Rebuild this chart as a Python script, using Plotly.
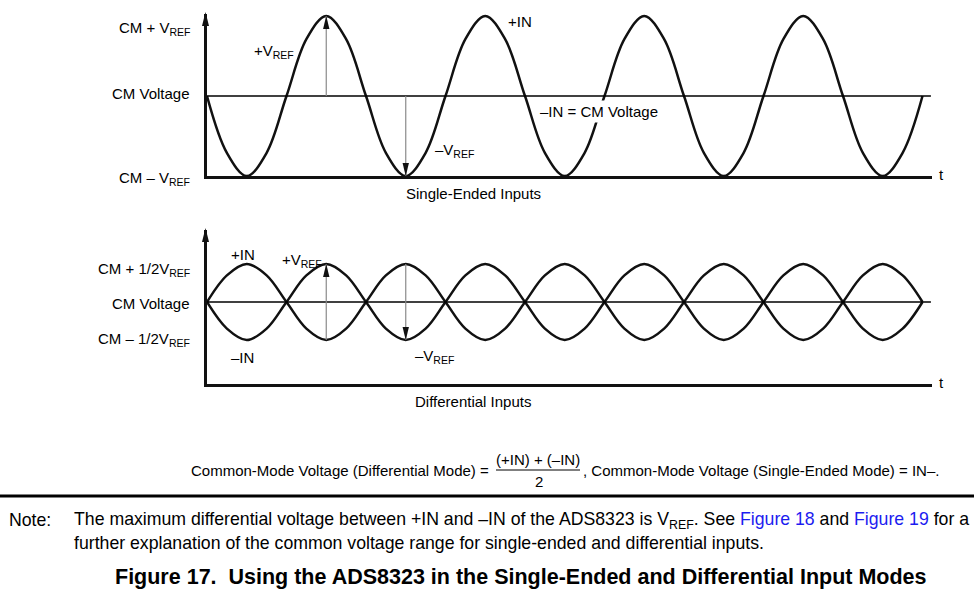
import plotly.graph_objects as go

W, H = 974, 597

# ---------------- data ----------------
# time in signal periods (samples every 1/8 period)
t_periods = [0.000, 0.125, 0.250, 0.375, 0.500, 0.625, 0.750, 0.875,
             1.000, 1.125, 1.250, 1.375, 1.500, 1.625, 1.750, 1.875,
             2.000, 2.125, 2.250, 2.375, 2.500, 2.625, 2.750, 2.875,
             3.000, 3.125, 3.250, 3.375, 3.500, 3.625, 3.750, 3.875,
             4.000, 4.125, 4.250, 4.375, 4.500]

# single-ended +IN, in units of VREF relative to CM voltage
se_pos_in = [0, -0.71, -1, -0.71, 0, 0.71, 1, 0.71,
             0, -0.71, -1, -0.71, 0, 0.71, 1, 0.71,
             0, -0.71, -1, -0.71, 0, 0.71, 1, 0.71,
             0, -0.71, -1, -0.71, 0, 0.71, 1, 0.71,
             0, -0.71, -1, -0.71, 0]

# differential +IN / -IN, in units of VREF relative to CM voltage
diff_pos_in = [0, 0.35, 0.5, 0.35, 0, -0.35, -0.5, -0.35,
               0, 0.35, 0.5, 0.35, 0, -0.35, -0.5, -0.35,
               0, 0.35, 0.5, 0.35, 0, -0.35, -0.5, -0.35,
               0, 0.35, 0.5, 0.35, 0, -0.35, -0.5, -0.35,
               0, 0.35, 0.5, 0.35, 0]
diff_neg_in = [0, -0.35, -0.5, -0.35, 0, 0.35, 0.5, 0.35,
               0, -0.35, -0.5, -0.35, 0, 0.35, 0.5, 0.35,
               0, -0.35, -0.5, -0.35, 0, 0.35, 0.5, 0.35,
               0, -0.35, -0.5, -0.35, 0, 0.35, 0.5, 0.35,
               0, -0.35, -0.5, -0.35, 0]

se_cm = 0
se_levels = [1, 0, -1]
se_level_labels = ["CM + V<sub>REF</sub>", "CM Voltage", "CM – V<sub>REF</sub>"]
diff_cm = 0
diff_levels = [0.5, 0, -0.5]
diff_level_labels = ["CM + 1/2V<sub>REF</sub>", "CM Voltage", "CM – 1/2V<sub>REF</sub>"]

# VREF span arrows (time, from, to)
se_arrow_t = [0.75, 1.25]
se_arrow_from = [0, 0]
se_arrow_to = [1, -1]
diff_arrow_t = [0.75, 1.25]
diff_arrow_from = [-0.5, 0.5]
diff_arrow_to = [0.5, -0.5]

# ---------------- layout geometry (pixels) ----------------
def px(x):
    return x / W

def py(y):
    return 1 - y / H

X_L, X_R = 207, 932
PERIOD_PX = 159.0
x_range = [0, (X_R - X_L) / PERIOD_PX]

# top panel
T_BOT, T_TOP, T_SCALE = 176, 14, 80.0
t_range = [-1, (T_BOT - T_TOP) / T_SCALE - 1]
# bottom panel
B_BOT, B_TOP, B_CM, B_SCALE = 384, 230, 302, 76.0
b_range = [-(B_BOT - B_CM) / B_SCALE, (B_CM - B_TOP) / B_SCALE]

FONT = "Liberation Sans, Arial, sans-serif"
INK = "#111111"

fig = go.Figure()

fig.add_trace(go.Scatter(x=t_periods, y=se_pos_in, mode="lines",
                         line=dict(color=INK, width=2.5, shape="spline"),
                         xaxis="x", yaxis="y", hoverinfo="skip", showlegend=False))
fig.add_trace(go.Scatter(x=t_periods, y=diff_pos_in, mode="lines",
                         line=dict(color=INK, width=2.5, shape="spline"),
                         xaxis="x2", yaxis="y2", hoverinfo="skip", showlegend=False))
fig.add_trace(go.Scatter(x=t_periods, y=diff_neg_in, mode="lines",
                         line=dict(color=INK, width=2.5, shape="spline"),
                         xaxis="x2", yaxis="y2", hoverinfo="skip", showlegend=False))

axis_common = dict(showgrid=False, zeroline=False, showticklabels=False, ticks="",
                   showline=True, linewidth=3, linecolor=INK, fixedrange=True)

fig.update_layout(
    width=W, height=H,
    margin=dict(l=0, r=0, t=0, b=0),
    paper_bgcolor="white", plot_bgcolor="white",
    font=dict(family=FONT, size=15, color="#000"),
    showlegend=False,
    xaxis=dict(domain=[px(X_L), px(X_R)], range=x_range, anchor="y", **axis_common),
    yaxis=dict(domain=[py(T_BOT), py(T_TOP)], range=t_range, anchor="x", **axis_common),
    xaxis2=dict(domain=[px(X_L), px(X_R)], range=x_range, anchor="y2", **axis_common),
    yaxis2=dict(domain=[py(B_BOT), py(B_TOP)], range=b_range, anchor="x2", **axis_common),
)

shapes = []
# CM voltage reference lines
shapes.append(dict(type="line", xref="x domain", yref="y", x0=0, x1=0.9985, y0=se_cm, y1=se_cm,
                   line=dict(color="#000", width=1.4)))
shapes.append(dict(type="line", xref="x2 domain", yref="y2", x0=0, x1=0.9985, y0=diff_cm, y1=diff_cm,
                   line=dict(color="#000", width=1.4)))

HEAD_UP = "M0,0 L-3.2,-13 L3.2,-13 Z"
HEAD_DN = "M0,0 L-3.2,13 L3.2,13 Z"

def span_arrow(xr, yr, t, y0, y1):
    shapes.append(dict(type="line", xref=xr, yref=yr, x0=t, x1=t, y0=y0, y1=y1,
                       line=dict(color="#8a8a8a", width=1.2)))
    shapes.append(dict(type="path", xref=xr, yref=yr, xsizemode="pixel", ysizemode="pixel",
                       xanchor=t, yanchor=y1, path=HEAD_UP if y1 > y0 else HEAD_DN,
                       fillcolor=INK, line=dict(width=0)))

for t, a, b in zip(se_arrow_t, se_arrow_from, se_arrow_to):
    span_arrow("x", "y", t, a, b)
for t, a, b in zip(diff_arrow_t, diff_arrow_from, diff_arrow_to):
    span_arrow("x2", "y2", t, a, b)

# axis arrowheads at the top of both vertical axes
for xr, yr in (("x domain", "y domain"), ("x2 domain", "y2 domain")):
    shapes.append(dict(type="path", xref=xr, yref=yr, xsizemode="pixel", ysizemode="pixel",
                       xanchor=0, yanchor=1, path="M-1.5,2 L-5,-12 L2,-12 Z",
                       fillcolor=INK, line=dict(width=0)))

# separator rule
shapes.append(dict(type="line", xref="paper", yref="paper", x0=0, x1=1, y0=py(496), y1=py(496),
                   line=dict(color="#000", width=3)))
# fraction bar
shapes.append(dict(type="line", xref="paper", yref="paper", x0=px(496), x1=px(580),
                   y0=py(470), y1=py(470), line=dict(color="#000", width=1)))

fig.update_layout(shapes=shapes)

ann = []

def label(x, y, text, xanchor="left", size=15, **kw):
    ann.append(dict(x=px(x), y=py(y), xref="paper", yref="paper", text=text, showarrow=False,
                    xanchor=xanchor, yanchor="middle", font=dict(size=size), **kw))

# level labels (anchored on the data levels)
se_shift = [-13, 2, -3]
for lv, txt, sh in zip(se_levels, se_level_labels, se_shift):
    ann.append(dict(x=px(192), xref="paper", y=lv, yref="y", text=txt, showarrow=False,
                    xanchor="right", yanchor="middle", yshift=sh, font=dict(size=15)))
diff_shift = [-5, -1, 1]
for lv, txt, sh in zip(diff_levels, diff_level_labels, diff_shift):
    ann.append(dict(x=px(192), xref="paper", y=lv, yref="y2", text=txt, showarrow=False,
                    xanchor="right", yanchor="middle", yshift=sh, font=dict(size=15)))

# top panel labels
label(252, 52, "+V<sub>REF</sub>")
label(433, 150, "–V<sub>REF</sub>")
label(506, 21, "+IN")
label(537, 111, "–IN = CM Voltage", bgcolor="white", borderpad=2)
label(473, 193, "Single-Ended Inputs", xanchor="center")
label(937, 175, "t")

# bottom panel labels
label(229, 255, "+IN")
label(280, 260, "+V<sub>REF</sub>")
label(229, 357, "–IN")
label(413, 356, "–V<sub>REF</sub>")
label(473, 401, "Differential Inputs", xanchor="center")
label(937, 382, "t")

# formula
label(491, 470, "Common-Mode Voltage (Differential Mode) =", xanchor="right", size=15)
label(538, 459, "(+IN) + (–IN)", xanchor="center", size=15)
label(539, 481, "2", xanchor="center", size=15)
label(581, 470, ", Common-Mode Voltage (Single-Ended Mode) = IN–.", size=15)

# note
label(7, 520, "Note:", size=17.7)
label(72, 520, "The maximum differential voltage between +IN and –IN of the ADS8323 is V<sub>REF</sub>. See "
               "<span style='color:#1c1cf0'>Figure 18</span> and "
               "<span style='color:#1c1cf0'>Figure 19</span> for a", size=17.7)
label(72, 543, "further explanation of the common voltage range for single-ended and differential inputs.",
      size=17.7)
label(521, 577, "<b>Figure 17.\u00a0 Using the ADS8323 in the Single-Ended and Differential Input Modes</b>",
      xanchor="center", size=21.5)

fig.update_layout(annotations=ann)

fig.write_html("out.html", config={"displayModeBar": False, "staticPlot": True},
               post_script="document.body.style.margin='0px';document.body.style.overflow='hidden';")
